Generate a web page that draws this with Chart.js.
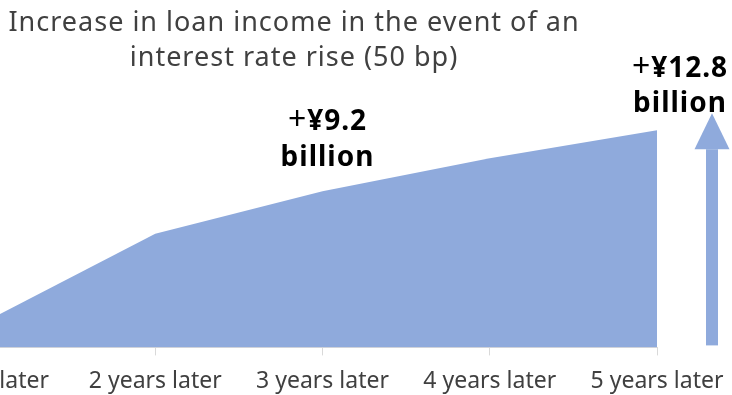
<!DOCTYPE html>
<html>
<head>
<meta charset="utf-8">
<script src="https://cdn.jsdelivr.net/npm/chart.js@4.4.1/dist/chart.umd.min.js"></script>
<style>
  html, body { margin: 0; padding: 0; background: #fff; overflow: hidden; }
  body { width: 732px; height: 395px; position: relative; }
  #caja { position: absolute; left: -100px; top: 0; width: 852px; height: 407px; }
</style>
</head>
<body>
<div id="caja"><canvas id="graficaIngresos"></canvas></div>
<script>
const periodos = ['1 year later', '2 years later', '3 years later', '4 years later', '5 years later'];
const aumento_ingresos = [1.6, 6.7, 9.2, 11.15, 12.8];   // ¥ billion
const titulo = ['Increase in loan income in the event of an', 'interest rate rise (50 bp)'];
const etiquetas = [
  { indice: 2, linea1: '¥9.2', linea2: 'billion' },
  { indice: 4, linea1: '¥12.8', linea2: 'billion' }
];
const tope_flecha = 13.8;

const azul = '#8FAADC';
const fuente = '"Noto Sans", sans-serif';

// texto del titulo, montos y flecha hacia arriba
const extras = {
  id: 'extras',
  afterDatasetsDraw(chart) {
    const ctx = chart.ctx;
    const x = chart.scales.x;
    const y = chart.scales.y;
    const offset = 100;

    ctx.save();
    ctx.textAlign = 'center';
    ctx.textBaseline = 'alphabetic';
    ctx.fillStyle = '#404040';
    ctx.letterSpacing = '1px';
    ctx.font = '27px ' + fuente;
    ctx.fillText(titulo[0], offset + 294, 31);
    ctx.fillText(titulo[1], offset + 294, 66);

    etiquetas.forEach(function(e, i) {
      const px = x.getPixelForValue(e.indice) + (i == 1 ? 23 : 5);
      const base1 = i == 1 ? 77 : 130;
      const base2 = i == 1 ? 112 : 166;
      ctx.font = 'bold 28px ' + fuente;
      const w = ctx.measureText(e.linea1).width;
      ctx.font = '32px ' + fuente;
      const wp = ctx.measureText('+').width;
      const inicio = px - (w + wp) / 2;
      ctx.fillStyle = '#000';
      ctx.textAlign = 'left';
      ctx.fillText('+', inicio, base1);
      ctx.font = 'bold 28px ' + fuente;
      ctx.fillText(e.linea1, inicio + wp, base1);
      ctx.textAlign = 'center';
      ctx.fillText(e.linea2, px, base2);
    });

    // flecha
    const fx = x.getPixelForValue(4) + 55;
    const abajo = y.getPixelForValue(0) - 2;
    const arriba = y.getPixelForValue(tope_flecha);
    ctx.fillStyle = azul;
    ctx.fillRect(fx - 6, arriba + 36, 12, abajo - arriba - 36);
    ctx.beginPath();
    ctx.moveTo(fx, arriba);
    ctx.lineTo(fx + 17.5, arriba + 36);
    ctx.lineTo(fx - 17.5, arriba + 36);
    ctx.closePath();
    ctx.fill();
    ctx.restore();
  }
};

const ctx = document.getElementById('graficaIngresos');

new Chart(ctx, {
  type: 'line',
  data: {
    labels: periodos,
    datasets: [{
      label: 'Increase in loan income',
      data: aumento_ingresos,
      fill: 'origin',
      backgroundColor: azul,
      borderWidth: 0,
      pointRadius: 0,
      tension: 0
    }]
  },
  options: {
    responsive: true,
    maintainAspectRatio: false,
    animation: false,
    layout: { padding: { left: 88, right: 95, top: 8, bottom: 0 } },
    plugins: {
      legend: { display: false },
      tooltip: { enabled: false }
    },
    scales: {
      x: {
        offset: false,
        grid: { drawOnChartArea: false, drawTicks: true, tickLength: 8, color: '#d9d9d9' },
        border: { display: true, color: '#d9d9d9', width: 1 },
        ticks: { color: '#404040', padding: 12, maxRotation: 0, autoSkip: false, font: { family: fuente, size: 23 } }
      },
      y: {
        display: false,
        min: 0,
        max: 20
      }
    }
  },
  plugins: [extras]
});
</script>
</body>
</html>
